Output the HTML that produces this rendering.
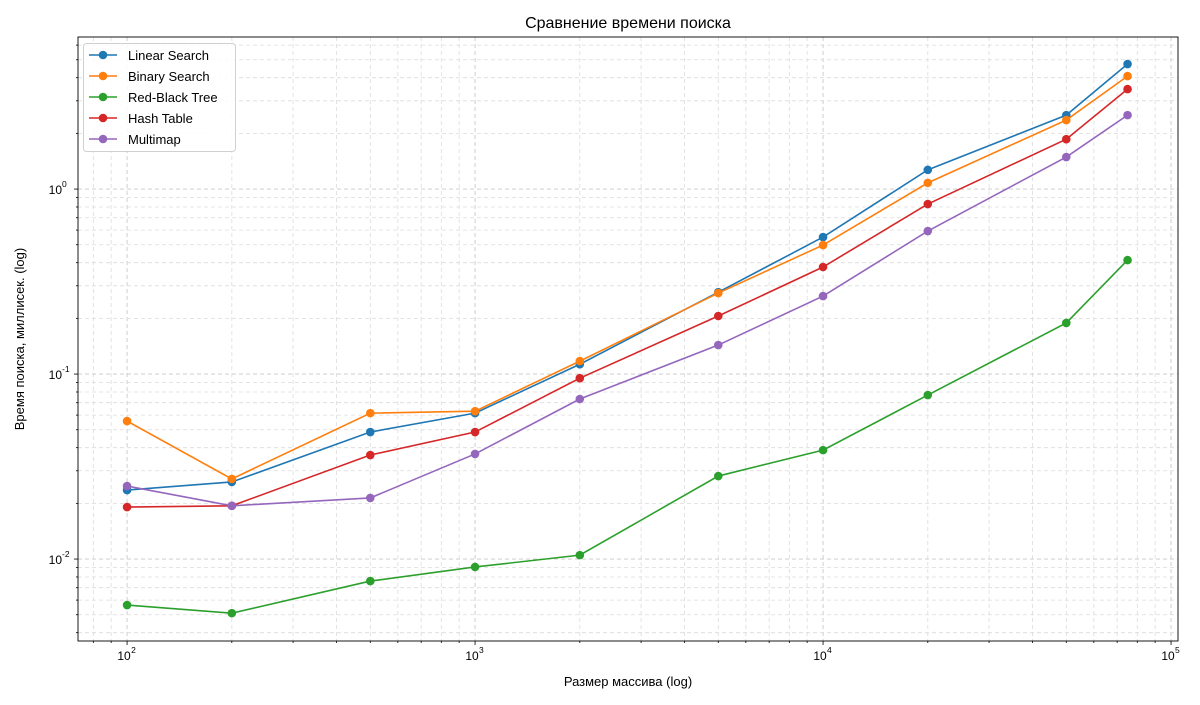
<!DOCTYPE html>
<html><head><meta charset="utf-8"><style>
body{margin:0;background:#fff;}
svg text{font-family:"Liberation Sans","DejaVu Sans",sans-serif;}
</style></head><body>
<svg id="chart" width="1200" height="700" xmlns="http://www.w3.org/2000/svg"></svg>
<script>
const sizes=[100,200,500,1000,2000,5000,10000,20000,50000,75000];
const seriesNames=["Linear Search","Binary Search","Red-Black Tree","Hash Table","Multimap"];
const linearSearch=[0.0236,0.0261,0.0486,0.0615,0.113,0.277,0.55,1.27,2.51,4.74];
const binarySearch=[0.0557,0.0271,0.0615,0.063,0.1175,0.274,0.498,1.08,2.36,4.08];
const redBlackTree=[0.00564,0.0051,0.0076,0.00906,0.0105,0.0281,0.0388,0.077,0.189,0.413];
const hashTable=[0.0191,0.0194,0.0365,0.0486,0.095,0.206,0.379,0.83,1.86,3.47];
const multimap=[0.0248,0.0194,0.0214,0.037,0.0733,0.1435,0.264,0.593,1.49,2.51];
const xTickLabels=["2","3","4","5"];
const yTickLabels=["-2","-1","0"];
const colors=["#1f77b4","#ff7f0e","#2ca02c","#d62728","#9467bd"];
const allSeries=[linearSearch,binarySearch,redBlackTree,hashTable,multimap];

const L=78,R=1178,T=37,B=641;
const xMin=1.859,xMax=5.020,yMin=-2.443,yMax=0.822;
const xs=v=>L+(Math.log10(v)-xMin)/(xMax-xMin)*(R-L);
const ys=v=>B-(Math.log10(v)-yMin)/(yMax-yMin)*(B-T);
const svg=document.getElementById('chart');
const NS="http://www.w3.org/2000/svg";
function mk(tag,attrs,parent){const e=document.createElementNS(NS,tag);for(const k in attrs)e.setAttribute(k,attrs[k]);(parent||svg).appendChild(e);return e;}

const grid=mk('g',{});


const axes=mk('g',{});


for(let d=1;d<=5;d++){for(let m=1;m<10;m++){const v=m*Math.pow(10,d);const lv=Math.log10(v);if(lv<xMin||lv>xMax)continue;const x=xs(v);
 mk('line',{x1:x,x2:x,y1:T,y2:B,stroke:m===1?'#c8c8c8':'#dcdcdc','stroke-width':m===1?0.9:0.8,'stroke-dasharray':'4,3'},grid);
 mk('line',{x1:x,x2:x,y1:B,y2:B+(m===1?4:2),stroke:'#000','stroke-width':0.8},axes);
 if(m===1){const t=mk('text',{x:x-3,y:B+19,'font-size':12,'text-anchor':'middle',fill:'#000'},axes);t.textContent='10';
  const s=mk('text',{x:x+4,y:B+12,'font-size':8.5,'text-anchor':'start',fill:'#000'},axes);s.textContent=xTickLabels[d-2];
  }
}}
for(let d=-3;d<=0;d++){for(let m=1;m<10;m++){const v=m*Math.pow(10,d);const lv=Math.log10(v);if(lv<yMin||lv>yMax)continue;const y=ys(v);
 mk('line',{x1:L,x2:R,y1:y,y2:y,stroke:m===1?'#c8c8c8':'#dcdcdc','stroke-width':m===1?0.9:0.8,'stroke-dasharray':'4,3'},grid);
 mk('line',{x1:L-(m===1?4:2),x2:L,y1:y,y2:y,stroke:'#000','stroke-width':0.8},axes);
 if(m===1){const t=mk('text',{x:L-16,y:y+5,'font-size':12,'text-anchor':'end',fill:'#000'},axes);t.textContent='10';
  const s=mk('text',{x:L-16,y:y-2,'font-size':8.5,'text-anchor':'start',fill:'#000'},axes);s.textContent=yTickLabels[d+2];
  }
}}
mk('rect',{x:L,y:T,width:R-L,height:B-T,fill:'none',stroke:'#000','stroke-width':0.9},axes);

allSeries.forEach((vals,i)=>{
 const g=mk('g',{});
 
 
 mk('polyline',{points:vals.map((v,j)=>xs(sizes[j])+','+ys(v)).join(' '),fill:'none',stroke:colors[i],'stroke-width':1.6},g);
 vals.forEach((v,j)=>{const c=mk('circle',{cx:xs(sizes[j]),cy:ys(v),r:4.3,fill:colors[i]},g);
  
  });
});

const lg=mk('g',{});


mk('rect',{x:83.5,y:43.5,width:152,height:108,rx:3,fill:'#fff','fill-opacity':0.85,stroke:'#d0d0d0'},lg);
seriesNames.forEach((n,i)=>{const y=55+i*21;
 const e=mk('g',{},lg);
 
 
 mk('line',{x1:89,x2:117,y1:y,y2:y,stroke:colors[i],'stroke-width':1.6},e);
 mk('circle',{cx:103,cy:y,r:4.3,fill:colors[i]},e);
 const t=mk('text',{x:128,y:y+5,'font-size':13,fill:'#000'},e);t.textContent=n;});

const ti=mk('text',{x:628,y:28,'font-size':16,'text-anchor':'middle',fill:'#000'});ti.textContent='Сравнение времени поиска';

const xt=mk('text',{x:628,y:686,'font-size':13,'text-anchor':'middle',fill:'#000'});xt.textContent='Размер массива (log)';

const yt=mk('text',{x:0,y:0,'font-size':13,'text-anchor':'middle',fill:'#000',transform:'translate(24,339) rotate(-90)'});yt.textContent='Время поиска, миллисек. (log)';

</script>
</body></html>
